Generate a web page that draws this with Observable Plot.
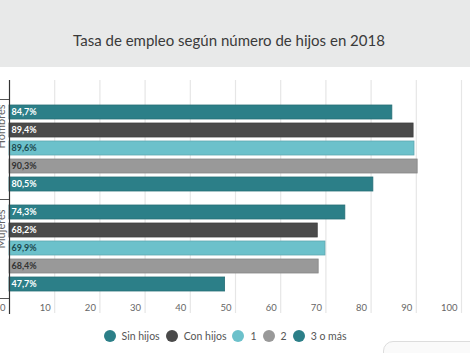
<!DOCTYPE html>
<html>
<head>
<meta charset="utf-8">
<script src="https://cdn.jsdelivr.net/npm/d3@7"></script>
<script src="https://cdn.jsdelivr.net/npm/@observablehq/plot@0.6"></script>
<style>
  html, body { margin: 0; padding: 0; background: #fff; }
  body { width: 470px; height: 353px; position: relative; overflow: hidden; font-family: Lato, "Open Sans", sans-serif; }
  #header { height: 67px; background: #e8e9e9; display: flex; align-items: center; justify-content: center; padding-right: 12px; box-sizing: border-box; }
  #header h1 { margin: 12px 0 0 0; font-weight: 400; font-size: 15px; color: #3a3a3a; font-family: Lato, sans-serif; }
  #chart svg { display: block; }
  #legend { position: absolute; top: 330px; left: 0; width: 450px; display: flex; justify-content: center; align-items: center; font-size: 10.5px; color: #555; font-family: Lato, sans-serif; }
  #legend .item { display: flex; align-items: center; margin: 0 3px; }
  #legend .dot { width: 12px; height: 12px; border-radius: 50%; margin-right: 6px; }
  #widget { position: absolute; left: 383px; top: 341px; width: 120px; height: 40px; border: 1px solid #ddd; border-radius: 10px; background: #fafafa; }
</style>
</head>
<body>
<div id="header"><h1>Tasa de empleo según número de hijos en 2018</h1></div>
<div id="chart"></div>
<div id="legend"></div>
<div id="widget"></div>
<script>
const groups = ["Hombres", "Mujeres"];
const series = ["Sin hijos", "Con hijos", "1", "2", "3 o más"];
const hombres = [84.7, 89.4, 89.6, 90.3, 80.5];
const mujeres = [74.3, 68.2, 69.9, 68.4, 47.7];
const xTicks = [0, 10, 20, 30, 40, 50, 60, 70, 80, 90, 100];

const colors = ["#2c7f88", "#4a4a4a", "#6cc1cb", "#999999", "#2c7f88"];
const labelColors = ["#ffffff", "#ffffff", "#1d4a50", "#333333", "#ffffff"];

const data = [];
groups.forEach((g, gi) => {
  const vals = gi === 0 ? hombres : mujeres;
  series.forEach((s, si) => data.push({group: g, series: s, value: vals[si]}));
});
const colorOf = d => colors[series.indexOf(d.series)];
const labelColorOf = d => labelColors[series.indexOf(d.series)];
const fmt = v => v.toFixed(1).replace(".", ",") + "%";

const width = 470, height = 253;
const firstG = groups[0], lastG = groups[groups.length - 1];

const chart = Plot.plot({
  width, height,
  marginTop: 31, marginBottom: 22, marginLeft: 9, marginRight: 9,
  style: {fontFamily: "Lato, sans-serif", background: "transparent"},
  x: {domain: [0, 100], axis: null},
  y: {domain: series, axis: null, paddingInner: 0.24, paddingOuter: 0.32},
  fy: {domain: groups, axis: null, padding: 0},
  color: {type: "identity"},
  marks: [
    Plot.ruleX(xTicks.filter(t => t > 0), {x: d => d, fy: () => firstG, insetTop: -18, stroke: "#e6e6e6", strokeWidth: 1.2}),
    Plot.ruleX(xTicks.filter(t => t > 0), {x: d => d, fy: () => lastG, insetBottom: -15, stroke: "#e6e6e6", strokeWidth: 1.2}),
    Plot.text(xTicks, {x: d => d, fy: () => lastG, text: d => String(d), frameAnchor: "bottom", lineAnchor: "middle", dy: 9, dx: -4, textAnchor: "end", fill: "#666", fontSize: 9.5}),
    Plot.barX(data, {fy: "group", y: "series", x: "value", fill: colorOf, stroke: d => d3.color(colorOf(d)).darker(0.4).formatHex(), strokeWidth: 0.8}),
    Plot.text(data, {fy: "group", y: "series", x: 0, dx: 2, text: d => fmt(d.value), textAnchor: "start", fill: labelColorOf, fontSize: 9, fontWeight: "bold"}),
    Plot.text(groups, {fy: d => d, text: d => d, frameAnchor: "left", rotate: -90, dx: -8, fill: "#666", fontSize: 11}),
    Plot.ruleY(groups, {fy: d => d, y: () => series[0], dy: -13, x1: -2, x2: 0, stroke: "#555"}),
    Plot.ruleY([lastG], {fy: d => d, y: () => series[series.length - 1], dy: 14, x1: -2, x2: 0, stroke: "#555"}),
    Plot.ruleX([0], {x: d => d, fy: () => firstG, insetTop: -18, stroke: "#333", strokeWidth: 1.2}),
    Plot.ruleX([0], {x: d => d, fy: () => lastG, insetBottom: -16, stroke: "#333", strokeWidth: 1.2})
  ]
});
document.getElementById("chart").appendChild(chart);

const legend = document.getElementById("legend");
series.forEach((s, i) => {
  const item = document.createElement("div");
  item.className = "item";
  const dot = document.createElement("span");
  dot.className = "dot";
  dot.style.background = colors[i];
  const lab = document.createElement("span");
  lab.textContent = s;
  item.appendChild(dot);
  item.appendChild(lab);
  legend.appendChild(item);
});
</script>
</body>
</html>
